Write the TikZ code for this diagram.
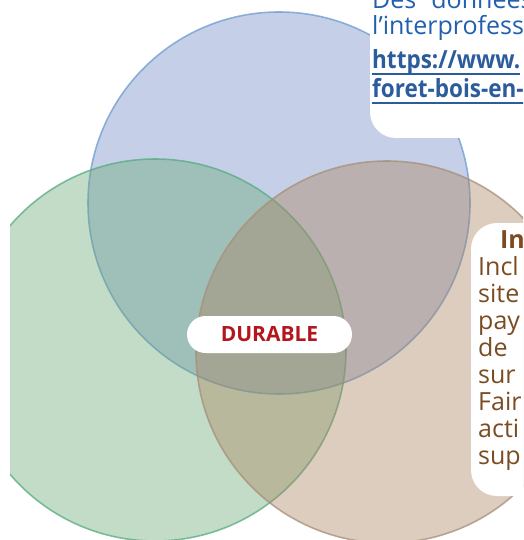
\documentclass[tikz,border=0pt]{standalone}
\usepackage{fontspec}
\setmainfont{Open Sans}
\usetikzlibrary{positioning}
\definecolor{Bleu}{HTML}{6E8AC6}
\definecolor{BleuT}{HTML}{6C9BD0}
\definecolor{Vert}{HTML}{67A873}
\definecolor{VertT}{HTML}{58AA80}
\definecolor{Brun}{HTML}{AA825D}
\definecolor{BrunT}{HTML}{A68E7A}
\definecolor{TexteBleu}{HTML}{2160AE}
\definecolor{Lien}{HTML}{2C5C9C}
\definecolor{TexteBrun}{HTML}{7B4C22}
\definecolor{Rouge}{HTML}{B3161E}
% underline at a fixed depth
\newcommand\souligne[1]{\setbox0=\hbox{#1}\rlap{\rule[-5.6pt]{\wd0}{1.8pt}}\box0}

\begin{document}
\begin{tikzpicture}[x=1pt,y=-1pt,
  disque/.style={fill opacity=0.4,draw opacity=0.75,line width=1.6pt},
  ligne/.style={anchor=base west,inner sep=0pt,font=\fontsize{25}{27}\selectfont},
  lien/.style={ligne,text=Lien,font=\fontsize{25}{27}\selectfont\bfseries\addfontfeature{FakeStretch=0.9}}]
  \useasboundingbox (0,0) rectangle (523,540);
  \clip (10,0) rectangle (523,540);
  % the three spheres
  \draw[disque,fill=Bleu,draw=BleuT] (279,203) circle (191pt);
  \draw[disque,fill=Vert,draw=VertT] (155,350) circle (191pt);
  \draw[disque,fill=Brun,draw=BrunT] (387,352) circle (191pt);
  % label in the middle
  \node[fill=white,rounded corners=18.5pt,minimum width=165pt,minimum height=37pt,
    inner sep=0pt,text=Rouge,font=\fontsize{21}{21}\selectfont\bfseries]
    (durable) at (269.5,334.5) {DURABLE};
  % top box
  \fill[white,rounded corners=26pt] (370,-40) rectangle (580,138);
  \node[ligne,text=TexteBleu] (donnees) at (372,9) {Des\hspace{15pt}données};
  \node[ligne,text=TexteBleu] (interpro) at (372,35) {l’interprofess};
  \node[lien] (url) at (372,69) {\souligne{https://www.}};
  \node[lien] (urlsuite) at (372,98) {\souligne{foret-bois-en-}};
  % right box
  \fill[white,rounded corners=26pt] (471,223) rectangle (580,496);
  \node[ligne,text=TexteBrun,font=\fontsize{25}{27}\selectfont\bfseries] (titre) at (500,248) {In};
  \foreach \i/\mot in {0/Incl,1/site,2/pay,3/de,4/sur,5/Fair,6/acti,7/sup}
    \node[ligne,text=TexteBrun] (mot\i) at (478,275+27*\i) {\mot};
\end{tikzpicture}
\end{document}
